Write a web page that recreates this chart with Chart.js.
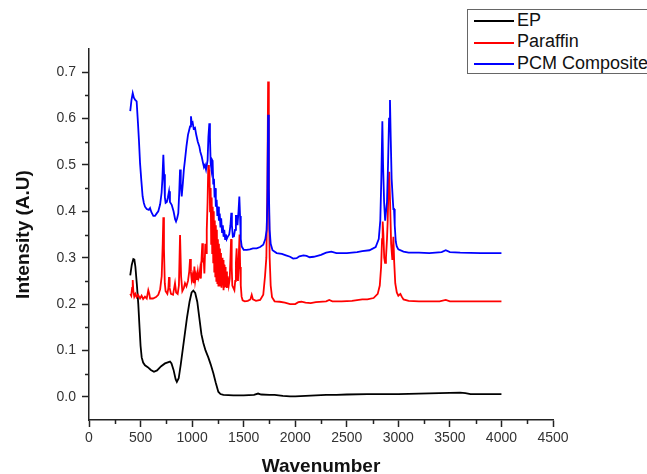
<!DOCTYPE html>
<html>
<head>
<meta charset="utf-8">
<script src="https://cdn.jsdelivr.net/npm/chart.js@4.4.1/dist/chart.umd.min.js"></script>
<style>
  html, body { margin: 0; padding: 0; background: #fff; overflow: hidden; }
  #wrap { position: relative; width: 647px; height: 474px; }
  #legend {
    position: absolute; left: 467px; top: 9px; width: 220px; height: 63px;
    border: 1px solid #666; background: #fff; color: #111;
    font: 18px "Liberation Sans", Arial, sans-serif;
  }
  .row { position: absolute; left: 6px; height: 21px; line-height: 21px; white-space: nowrap; }
  .swatch { display: inline-block; width: 40px; height: 0; border-top: 2px solid; vertical-align: middle; margin-right: 3px; }
</style>
</head>
<body>
<div id="wrap">
  <canvas id="chart" width="647" height="474"></canvas>
  <div id="legend"></div>
</div>
<script>
// tick positions
const xTicks = [0, 500, 1000, 1500, 2000, 2500, 3000, 3500, 4000, 4500];
const xMinorTicks = [250, 750, 1250, 1750, 2250, 2750, 3250, 3750, 4250];
const yTicks = [0, 0.1, 0.2, 0.3, 0.4, 0.5, 0.6, 0.7];
const yMinorTicks = [0.05, 0.15, 0.25, 0.35, 0.45, 0.55, 0.65];

// EP
const epWave = [400, 415, 430, 440, 450, 465, 478, 490, 500, 511, 525, 543, 570, 600, 630, 660, 700, 737, 786, 800,
  820, 840, 852, 870, 890, 920, 950, 975, 995, 1012, 1030, 1050, 1070, 1090, 1109, 1130, 1157, 1180, 1206, 1230,
  1254, 1275, 1303, 1400, 1500, 1600, 1640, 1670, 1750, 1800, 1880, 1950, 2000, 2100, 2200, 2300, 2400, 2500,
  2700, 2900, 3000, 3200, 3400, 3600, 3650, 3700, 3800, 4000];
const epInt = [0.262, 0.285, 0.297, 0.296, 0.28, 0.24, 0.2, 0.15, 0.11, 0.085, 0.074, 0.068, 0.064, 0.058, 0.054, 0.057, 0.066, 0.072, 0.076, 0.072,
  0.058, 0.038, 0.032, 0.04, 0.07, 0.12, 0.17, 0.205, 0.225, 0.229, 0.224, 0.205, 0.17, 0.135, 0.116, 0.1, 0.085, 0.07, 0.051, 0.03,
  0.011, 0.006, 0.004, 0.003, 0.003, 0.004, 0.007, 0.005, 0.004, 0.004, 0.002, 0.001, 0.001, 0.002, 0.003, 0.004, 0.004, 0.005,
  0.006, 0.006, 0.006, 0.007, 0.008, 0.009, 0.008, 0.006, 0.006, 0.006];

// Paraffin
const parWave = [400, 410, 418, 424, 430, 439, 450, 462, 475, 495, 510, 525, 543, 560, 575, 585, 592, 620, 650, 672,
  690, 705, 715, 721, 727, 735, 743, 760, 770, 776, 782, 795, 815, 834, 845, 860, 872, 883, 893, 905,
  920, 931, 945, 960, 972, 980, 988, 996, 1005, 1014, 1022, 1030, 1038, 1045, 1055, 1062, 1070, 1077, 1085, 1092,
  1099, 1105, 1112, 1119, 1128, 1135, 1142, 1150, 1157, 1163, 1168, 1174, 1180, 1185, 1190, 1195, 1200, 1205, 1210, 1215,
  1220, 1225, 1230, 1235, 1240, 1245, 1250, 1255, 1260, 1265, 1270, 1275, 1280, 1285, 1290, 1295, 1300, 1305, 1310, 1315,
  1320, 1325, 1330, 1338, 1345, 1355, 1365, 1372, 1378, 1384, 1390, 1400, 1410, 1418, 1425, 1432, 1438, 1445, 1452, 1460,
  1466, 1472, 1480, 1490, 1510, 1540, 1565, 1578, 1590, 1620, 1660, 1690, 1707, 1720, 1730, 1737, 1744, 1752, 1762, 1775,
  1800, 1850, 1900, 1950, 2000, 2030, 2060, 2100, 2150, 2200, 2300, 2330, 2360, 2450, 2550, 2650, 2700, 2760, 2800, 2820,
  2833, 2842, 2848, 2855, 2863, 2871, 2880, 2890, 2897, 2903, 2912, 2920, 2930, 2942, 2952, 2960, 2970, 2985, 3000, 3020,
  3033, 3050, 3100, 3200, 3400, 3460, 3500, 3700, 4000];
const parInt = [0.222, 0.218, 0.235, 0.252, 0.228, 0.216, 0.222, 0.215, 0.22, 0.212, 0.218, 0.211, 0.216, 0.212, 0.23, 0.222, 0.212, 0.212, 0.215, 0.22,
  0.232, 0.26, 0.33, 0.387, 0.32, 0.245, 0.228, 0.222, 0.235, 0.258, 0.235, 0.222, 0.22, 0.245, 0.225, 0.222, 0.24, 0.349, 0.26, 0.228,
  0.235, 0.245, 0.238, 0.25, 0.27, 0.297, 0.27, 0.252, 0.262, 0.245, 0.281, 0.25, 0.262, 0.252, 0.27, 0.255, 0.26, 0.274, 0.255, 0.3,
  0.331, 0.29, 0.3, 0.266, 0.33, 0.31, 0.36, 0.42, 0.5, 0.46, 0.49, 0.4, 0.45, 0.33, 0.43, 0.31, 0.41, 0.29, 0.4, 0.27,
  0.38, 0.26, 0.37, 0.25, 0.36, 0.245, 0.34, 0.24, 0.33, 0.245, 0.32, 0.24, 0.31, 0.235, 0.3, 0.24, 0.295, 0.23, 0.285, 0.235,
  0.28, 0.237, 0.27, 0.235, 0.26, 0.24, 0.255, 0.3, 0.34, 0.28, 0.24, 0.235, 0.23, 0.25, 0.29, 0.32, 0.26, 0.25, 0.3, 0.35,
  0.28, 0.24, 0.216, 0.208, 0.206, 0.207, 0.21, 0.22, 0.21, 0.207, 0.209, 0.22, 0.26, 0.3, 0.45, 0.68, 0.45, 0.3, 0.24, 0.215,
  0.206, 0.205, 0.203, 0.2, 0.2, 0.204, 0.205, 0.203, 0.202, 0.204, 0.206, 0.209, 0.206, 0.206, 0.207, 0.21, 0.21, 0.213, 0.222, 0.24,
  0.28, 0.34, 0.378, 0.35, 0.3, 0.289, 0.3, 0.34, 0.38, 0.44, 0.485, 0.42, 0.33, 0.295, 0.345, 0.29, 0.245, 0.225, 0.218, 0.222,
  0.216, 0.21, 0.207, 0.206, 0.206, 0.209, 0.206, 0.206, 0.206];

// PCM Composite
const pcmWave = [400, 412, 424, 435, 448, 462, 475, 485, 495, 508, 520, 532, 543, 560, 580, 592, 605, 624, 640, 655,
  672, 690, 704, 712, 721, 728, 736, 743, 755, 765, 776, 785, 802, 820, 835, 844, 855, 866, 875, 883,
  890, 899, 910, 920, 931, 945, 960, 980, 989, 996, 1005, 1015, 1028, 1040, 1055, 1070, 1080, 1093, 1105, 1115,
  1125, 1135, 1141, 1150, 1158, 1167, 1173, 1180, 1188, 1195, 1199, 1205, 1212, 1218, 1224, 1230, 1238, 1245, 1252, 1260,
  1268, 1275, 1282, 1290, 1298, 1305, 1312, 1320, 1328, 1335, 1345, 1360, 1372, 1380, 1386, 1395, 1406, 1416, 1425, 1432,
  1440, 1450, 1458, 1465, 1472, 1481, 1500, 1530, 1560, 1590, 1626, 1660, 1690, 1710, 1723, 1730, 1737, 1744, 1752, 1762,
  1780, 1820, 1870, 1910, 1950, 1980, 2014, 2040, 2080, 2110, 2140, 2180, 2250, 2300, 2350, 2400, 2500, 2600, 2650, 2720,
  2780, 2810, 2825, 2835, 2845, 2852, 2862, 2872, 2880, 2890, 2900, 2910, 2919, 2926, 2935, 2945, 2952, 2958, 2965, 2975,
  2985, 3000, 3050, 3100, 3200, 3300, 3420, 3460, 3500, 3600, 3800, 4000];
const pcmInt = [0.616, 0.64, 0.655, 0.645, 0.64, 0.637, 0.59, 0.55, 0.504, 0.465, 0.432, 0.418, 0.41, 0.405, 0.403, 0.407, 0.398, 0.39, 0.39, 0.395,
  0.4, 0.415, 0.44, 0.47, 0.522, 0.48, 0.43, 0.418, 0.42, 0.43, 0.443, 0.42, 0.414, 0.4, 0.383, 0.378, 0.385, 0.396, 0.44, 0.49,
  0.46, 0.432, 0.46, 0.49, 0.511, 0.54, 0.565, 0.583, 0.605, 0.59, 0.592, 0.578, 0.58, 0.565, 0.55, 0.54, 0.528, 0.518, 0.505, 0.495,
  0.5, 0.49, 0.49, 0.51, 0.56, 0.59, 0.56, 0.504, 0.49, 0.51, 0.508, 0.46, 0.47, 0.43, 0.45, 0.41, 0.425, 0.39, 0.41, 0.38,
  0.395, 0.365, 0.385, 0.355, 0.37, 0.345, 0.36, 0.34, 0.35, 0.34, 0.345, 0.35, 0.37, 0.397, 0.37, 0.345, 0.346, 0.36, 0.39, 0.39,
  0.37, 0.4, 0.432, 0.39, 0.34, 0.324, 0.317, 0.317, 0.318, 0.32, 0.32, 0.323, 0.328, 0.34, 0.36, 0.42, 0.608, 0.45, 0.36, 0.33,
  0.316, 0.31, 0.308, 0.305, 0.302, 0.298, 0.299, 0.303, 0.305, 0.304, 0.301, 0.302, 0.306, 0.311, 0.313, 0.31, 0.31, 0.312, 0.314, 0.316,
  0.323, 0.34, 0.38, 0.47, 0.594, 0.5, 0.42, 0.38, 0.38, 0.42, 0.5, 0.6, 0.64, 0.56, 0.47, 0.43, 0.405, 0.405, 0.37, 0.335,
  0.324, 0.318, 0.313, 0.311, 0.311, 0.31, 0.312, 0.316, 0.312, 0.311, 0.31, 0.31];

const family = '"Liberation Sans", Arial, Helvetica, sans-serif';
const axisColor = '#222';
const textColor = '#333';

const series = [
  { label: 'EP', wave: epWave, values: epInt, color: '#000000', order: 3 },
  { label: 'Paraffin', wave: parWave, values: parInt, color: '#ff0000', order: 2 },
  { label: 'PCM Composite', wave: pcmWave, values: pcmInt, color: '#0000ff', order: 1 }
];

// petites graduations entre les grandes
const minorTicks = {
  id: 'minorTicks',
  afterDraw(chart) {
    const { ctx, chartArea, scales: { x, y } } = chart;
    ctx.save();
    ctx.strokeStyle = axisColor;
    ctx.lineWidth = 1.5;
    ctx.beginPath();
    xMinorTicks.forEach(v => {
      const px = Math.round(x.getPixelForValue(v)) + 0.5;
      ctx.moveTo(px, chartArea.bottom);
      ctx.lineTo(px, chartArea.bottom + 4);
    });
    yMinorTicks.forEach(v => {
      const py = Math.round(y.getPixelForValue(v)) + 0.5;
      ctx.moveTo(chartArea.left, py);
      ctx.lineTo(chartArea.left - 4, py);
    });
    ctx.stroke();
    ctx.restore();
  }
};

new Chart(document.getElementById('chart'), {
  type: 'scatter',
  data: {
    datasets: series.map(s => ({
      label: s.label,
      data: s.wave.map((w, i) => ({ x: w, y: s.values[i] })),
      showLine: true,
      borderColor: s.color,
      backgroundColor: s.color,
      borderWidth: 1.8,
      pointRadius: 0,
      tension: 0,
      order: s.order
    }))
  },
  options: {
    responsive: false,
    animation: false,
    devicePixelRatio: 1,
    layout: { padding: { left: 0, top: 49, right: 94, bottom: 0 } },
    plugins: {
      legend: { display: false },
      tooltip: { enabled: false }
    },
    scales: {
      x: {
        type: 'linear',
        min: 0,
        max: 4500,
        afterBuildTicks: s => { s.ticks = xTicks.map(v => ({ value: v })); },
        afterFit: s => { s.height = 54; },
        ticks: {
          color: textColor, padding: 3, maxRotation: 0, autoSkip: false,
          font: { family, size: 14 },
          callback: v => String(v)
        },
        grid: { drawOnChartArea: false, drawTicks: true, tickLength: 7, tickColor: axisColor, tickWidth: 1.5 },
        border: { display: true, color: axisColor, width: 1.5 },
        title: {
          display: true, text: 'Wavenumber', color: '#111', padding: 0,
          font: { family, size: 19, weight: 'bold', lineHeight: 0.8 }
        }
      },
      y: {
        type: 'linear',
        min: -0.05,
        max: 0.75,
        afterBuildTicks: s => { s.ticks = yTicks.map(v => ({ value: v })); },
        afterFit: s => { s.width = 89; },
        ticks: {
          color: textColor, padding: 6, autoSkip: false,
          font: { family, size: 14 },
          callback: v => v.toFixed(1)
        },
        grid: { drawOnChartArea: false, drawTicks: true, tickLength: 7, tickColor: axisColor, tickWidth: 1.5 },
        border: { display: true, color: axisColor, width: 1.5 },
        title: {
          display: true, text: 'Intensity (A.U)', color: '#111', padding: { top: 12, bottom: 0 },
          font: { family, size: 19, weight: 'bold' }
        }
      }
    }
  },
  plugins: [minorTicks]
});

// legende dans un cadre, coupee par le bord droit comme l'original
const legendDiv = document.getElementById('legend');
legendDiv.innerHTML = series.map((s, i) => `
  <div class="row" style="top:${i * 21.3}px">
    <span class="swatch" style="border-color:${s.color}"></span>${s.label}
  </div>`).join('');
</script>
</body>
</html>
